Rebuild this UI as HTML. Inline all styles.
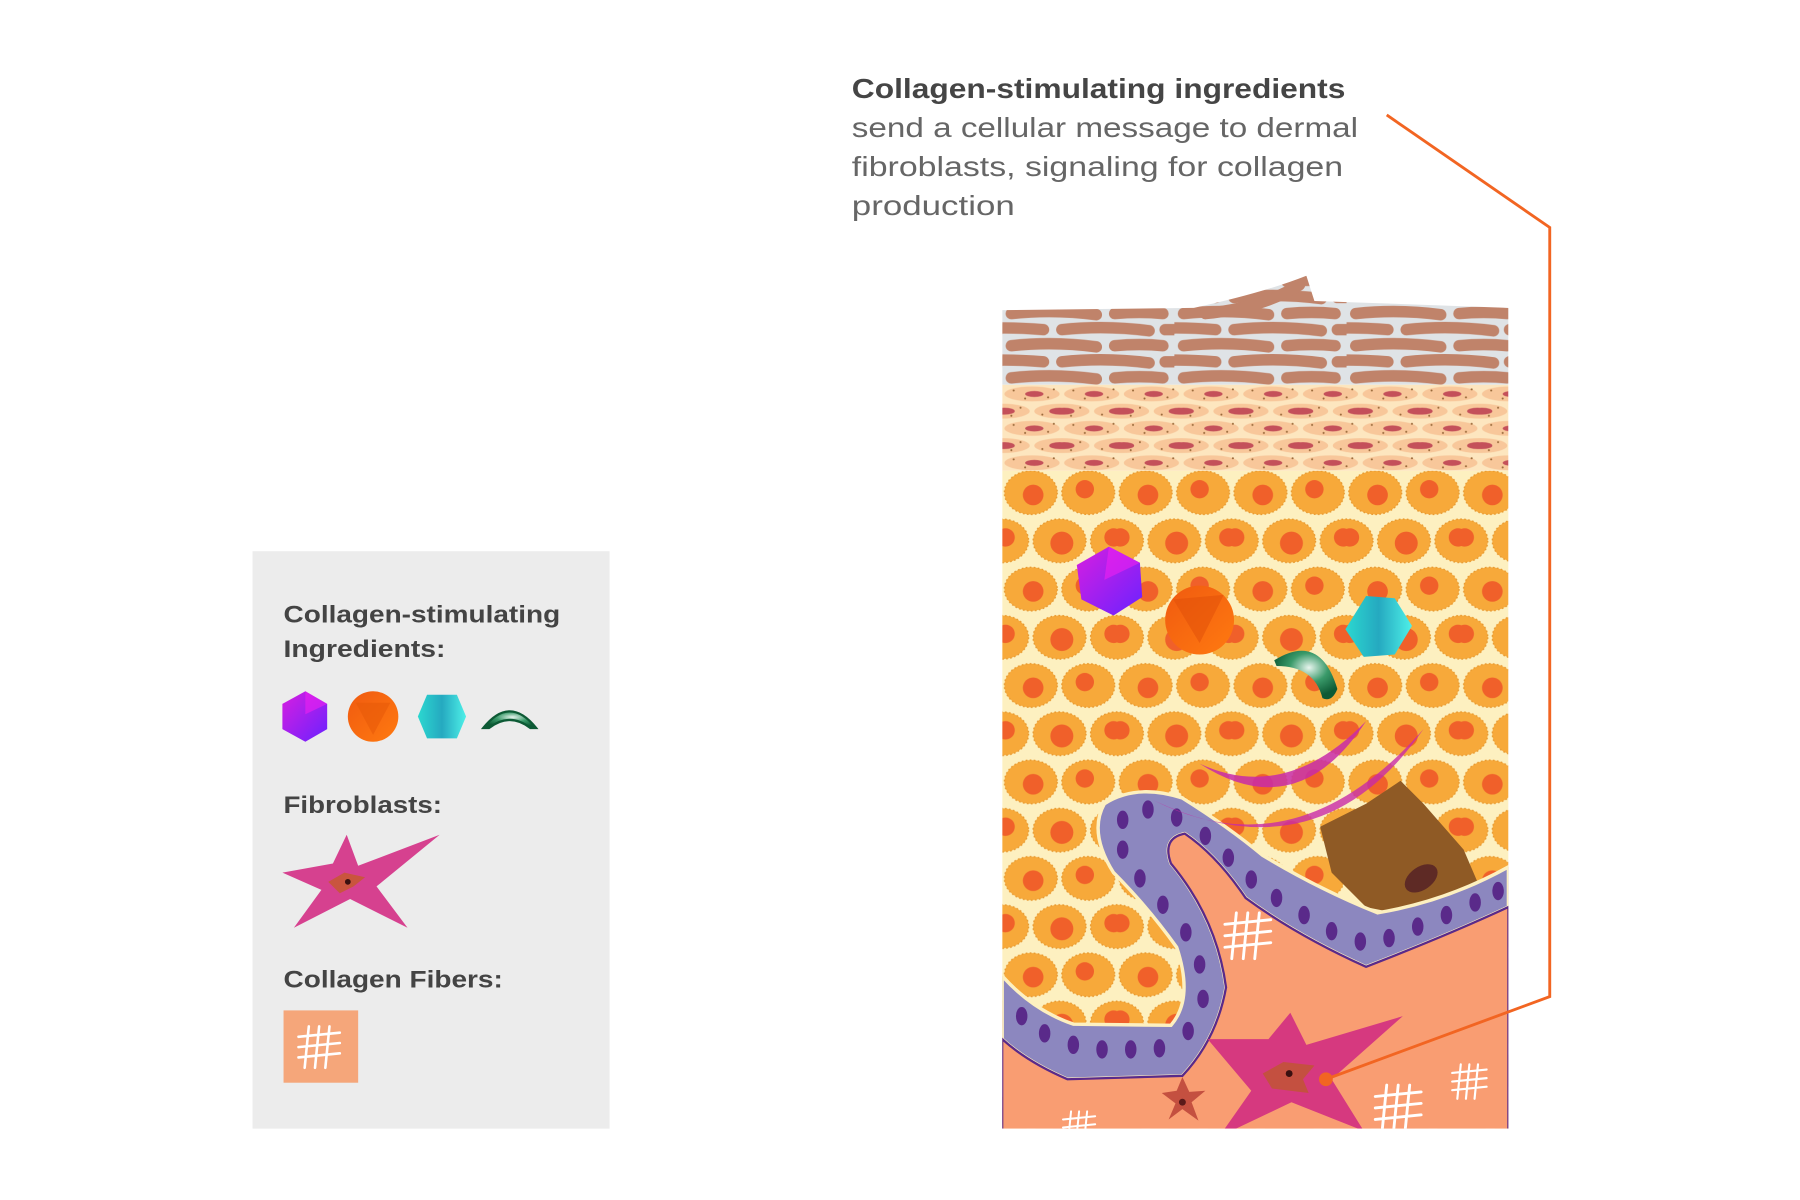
<!DOCTYPE html>
<html><head><meta charset="utf-8"><style>
html,body{margin:0;padding:0;background:#fff;}
svg{display:block}
</style></head><body>
<svg width="1800" height="1200" viewBox="0 0 1568 1045" xmlns="http://www.w3.org/2000/svg" xmlns:xlink="http://www.w3.org/1999/xlink" font-family="Liberation Sans, sans-serif">
<defs>
<clipPath id="panel"><path d="M873,270 L1040,268 Q1100,255 1138,240 L1145,262 L1314,268 L1314,983 L873,983 Z"/></clipPath>
<radialGradient id="gr" cx="0.55" cy="0.35" r="0.6"><stop offset="0" stop-color="#e8f5ee"/><stop offset="0.5" stop-color="#3a9a6a"/><stop offset="1" stop-color="#0d5a35"/></radialGradient>
<linearGradient id="pu" x1="0" y1="0" x2="1" y2="1"><stop offset="0" stop-color="#d81ee0"/><stop offset="1" stop-color="#6a22ff"/></linearGradient>
<linearGradient id="or" x1="0" y1="0" x2="1" y2="1"><stop offset="0" stop-color="#f05a10"/><stop offset="1" stop-color="#ff7a10"/></linearGradient>
<linearGradient id="te" x1="0" y1="0" x2="1" y2="0"><stop offset="0" stop-color="#2bd8d0"/><stop offset="0.5" stop-color="#25a9c0"/><stop offset="1" stop-color="#4ef0e8"/></linearGradient>
<pattern id="cellp" x="873" y="408" width="100" height="84" patternUnits="userSpaceOnUse">
 <rect width="100" height="84" fill="#fdf0c0"/>
 <g fill="#f7a93a" stroke="#e89a30" stroke-width="1.2" stroke-dasharray="1.5 2">
 <ellipse cx="25" cy="21" rx="23" ry="19"/><ellipse cx="75" cy="21" rx="23" ry="19"/>
 <ellipse cx="0" cy="63" rx="23" ry="19"/><ellipse cx="50" cy="63" rx="23" ry="19"/><ellipse cx="100" cy="63" rx="23" ry="19"/>
 <ellipse cx="25" cy="-21" rx="23" ry="19"/><ellipse cx="75" cy="-21" rx="23" ry="19"/>
 <ellipse cx="25" cy="105" rx="23" ry="19"/><ellipse cx="75" cy="105" rx="23" ry="19"/>
 </g>
 <g fill="#f0602a">
 <circle cx="27" cy="23" r="9"/><circle cx="72" cy="18" r="8"/><circle cx="52" cy="65" r="10"/><circle cx="3" cy="60" r="8"/><circle cx="97" cy="60" r="8"/>
 </g>
</pattern>
<pattern id="granp" x="873" y="335" width="52" height="30" patternUnits="userSpaceOnUse">
 <rect width="52" height="30" fill="#fde6bf"/>
 <g fill="#f8c79a"><ellipse cx="26" cy="8" rx="24" ry="6.5"/><ellipse cx="0" cy="23" rx="24" ry="6.5"/><ellipse cx="52" cy="23" rx="24" ry="6.5"/></g>
 <g fill="#c4505a"><ellipse cx="28" cy="8" rx="8" ry="2.6"/><ellipse cx="2" cy="23" rx="9" ry="3"/><ellipse cx="50" cy="23" rx="9" ry="3"/></g>
 <g fill="#9a6a3a"><circle cx="10" cy="5" r="0.9"/><circle cx="40" cy="11" r="0.9"/><circle cx="16" cy="20" r="0.9"/><circle cx="35" cy="26" r="0.9"/><circle cx="20" cy="12" r="0.9"/><circle cx="45" cy="4" r="0.9"/><circle cx="8" cy="27" r="0.9"/></g>
</pattern>
<pattern id="cornp" x="873" y="266" width="150" height="28" patternUnits="userSpaceOnUse">
 <rect width="150" height="28" fill="#dfe3e6"/>
 <g stroke="#c0836a" stroke-width="10" stroke-linecap="round" fill="none">
 <path d="M8,7 Q45,3 82,8"/><path d="M98,7 Q120,5 140,7"/>
 <path d="M-30,21 Q0,18 36,21"/><path d="M52,21 Q90,17 128,22"/><path d="M142,21 L180,21"/>
 </g>
</pattern>
<path id="m" d="M-20,-10 L20,-14 M-20,0 L20,-4 M-20,10 L20,6 M-10,-20 L-14,20 M0,-20 L-4,20 M10,-20 L6,20" stroke="#fff" stroke-width="2.5" fill="none" stroke-linecap="round"/>
</defs>

<text x="742" y="85" font-size="24.5" font-weight="bold" fill="#454545" textLength="430" lengthAdjust="spacingAndGlyphs">Collagen-stimulating ingredients</text>
<g font-size="24.5" fill="#666">
<text x="742" y="119" textLength="441" lengthAdjust="spacingAndGlyphs">send a cellular message to dermal</text>
<text x="742" y="153" textLength="428" lengthAdjust="spacingAndGlyphs">fibroblasts, signaling for collagen</text>
<text x="742" y="187" textLength="142" lengthAdjust="spacingAndGlyphs">production</text>
</g>

<rect x="220" y="480" width="311" height="503" fill="#ececec"/>
<g font-size="21" font-weight="bold" fill="#444">
<text x="247" y="542" textLength="241" lengthAdjust="spacingAndGlyphs">Collagen-stimulating</text>
<text x="247" y="572" textLength="141" lengthAdjust="spacingAndGlyphs">Ingredients:</text>
<text x="247" y="708" textLength="138" lengthAdjust="spacingAndGlyphs">Fibroblasts:</text>
<text x="247" y="860" textLength="191" lengthAdjust="spacingAndGlyphs">Collagen Fibers:</text>
</g>
<polygon points="266,602 285,613 285,635 266,646 246,635 246,613" fill="url(#pu)"/>
<polygon points="266,602 285,613 266,622" fill="#ee22f0" opacity=".6"/>
<circle cx="325" cy="624" r="22" fill="url(#or)"/>
<polygon points="310,612 340,612 325,640" fill="#e85a08" opacity=".6"/>
<polygon points="372,605 398,605 406,624 398,643 372,643 364,624" fill="url(#te)"/>
<path d="M421,634 Q444,605 467,634 L462,634 Q444,620 426,634 Z" fill="url(#gr)" stroke="#0d5a35" stroke-width="2"/>
<polygon points="246,760 290,752 302,727 312,754 383,727 328,772 355,808 305,783 256,808 280,775" fill="#d6418f"/>
<polygon points="286,768 300,760 318,764 308,772 296,778" fill="#c9553e"/>
<circle cx="303" cy="768" r="2.5" fill="#3a1010"/>
<rect x="247" y="880" width="65" height="63" fill="#f5a67a"/>
<use xlink:href="#m" href="#m" transform="translate(278,912) scale(0.9)"/>

<g clip-path="url(#panel)">
<rect x="873" y="230" width="441" height="105" fill="url(#cornp)"/>
<path d="M1050,273 Q1100,268 1132,248" stroke="#c0836a" stroke-width="10" stroke-linecap="round" fill="none"/>
<rect x="873" y="335" width="441" height="75" fill="url(#granp)"/>
<rect x="873" y="410" width="441" height="580" fill="url(#cellp)"/>
<path d="M1150,720 L1190,700 L1220,680 L1240,700 L1275,740 L1290,775 L1240,800 L1190,790 L1160,760 Z" fill="#8f5a25"/>
<ellipse cx="1238" cy="765" rx="16" ry="10" transform="rotate(-35 1238 765)" fill="#5e2a25"/>
<path d="M873,850 Q900,880 935,892 L1020,893 Q1040,870 1025,825 Q1000,790 970,760 Q948,725 962,700 Q990,682 1030,695 Q1070,720 1100,745 Q1150,775 1200,795 Q1260,785 1314,755 L1314,790 Q1260,815 1190,842 Q1130,815 1085,782 Q1060,745 1032,726 Q1012,730 1020,752 Q1060,800 1068,860 Q1060,905 1030,937 L930,940 Q895,925 873,905 Z" fill="#8c87bf" stroke="#fdf0c0" stroke-width="3"/>
<g fill="#5a2a8a">
<ellipse cx="890" cy="885" rx="5" ry="8"/><ellipse cx="910" cy="900" rx="5" ry="8"/><ellipse cx="935" cy="910" rx="5" ry="8"/><ellipse cx="960" cy="914" rx="5" ry="8"/><ellipse cx="985" cy="914" rx="5" ry="8"/><ellipse cx="1010" cy="913" rx="5" ry="8"/><ellipse cx="1035" cy="898" rx="5" ry="8"/><ellipse cx="1048" cy="870" rx="5" ry="8"/><ellipse cx="1045" cy="840" rx="5" ry="8"/><ellipse cx="1033" cy="812" rx="5" ry="8"/><ellipse cx="1013" cy="788" rx="5" ry="8"/><ellipse cx="993" cy="765" rx="5" ry="8"/><ellipse cx="978" cy="740" rx="5" ry="8"/><ellipse cx="978" cy="714" rx="5" ry="8"/><ellipse cx="1000" cy="705" rx="5" ry="8"/><ellipse cx="1025" cy="712" rx="5" ry="8"/><ellipse cx="1050" cy="728" rx="5" ry="8"/><ellipse cx="1070" cy="747" rx="5" ry="8"/><ellipse cx="1090" cy="766" rx="5" ry="8"/><ellipse cx="1112" cy="782" rx="5" ry="8"/><ellipse cx="1136" cy="797" rx="5" ry="8"/><ellipse cx="1160" cy="811" rx="5" ry="8"/><ellipse cx="1185" cy="820" rx="5" ry="8"/><ellipse cx="1210" cy="817" rx="5" ry="8"/><ellipse cx="1235" cy="807" rx="5" ry="8"/><ellipse cx="1260" cy="797" rx="5" ry="8"/><ellipse cx="1285" cy="786" rx="5" ry="8"/><ellipse cx="1305" cy="776" rx="5" ry="8"/>
</g>
<path d="M873,905 Q895,925 930,940 L1030,937 Q1060,905 1068,860 Q1060,800 1020,752 Q1012,730 1032,726 Q1060,745 1085,782 Q1130,815 1190,842 Q1260,815 1314,790 L1314,990 L873,990 Z" fill="#f99d72" stroke="#5a2a8a" stroke-width="2"/>
<use xlink:href="#m" href="#m" transform="translate(1087,815)"/>
<use xlink:href="#m" href="#m" transform="translate(1218,965)"/>
<use xlink:href="#m" href="#m" transform="translate(1280,942) scale(0.75)"/>
<use xlink:href="#m" href="#m" transform="translate(940,982) scale(0.7)"/>
<polygon points="966,476 993,490 995,520 970,536 942,522 938,492" fill="url(#pu)"/>
<polygon points="966,476 993,490 962,505" fill="#ee22f0" opacity=".6"/>
<circle cx="1045" cy="540" r="30" fill="url(#or)"/>
<polygon points="1022,522 1066,518 1045,560" fill="#e04e08" opacity=".5"/>
<polygon points="1190,519 1215,521 1230,545 1215,570 1188,572 1172,548" fill="url(#te)"/>
<path d="M1110,575 Q1150,550 1165,600 Q1160,612 1152,608 Q1145,580 1112,580 Z" fill="url(#gr)"/>
<path d="M1045,665 Q1120,700 1190,628 Q1130,720 1045,665 Z" fill="#c82aa8" opacity=".85"/>
<path d="M1005,697 Q1130,760 1240,635 Q1150,765 1005,697 Z" fill="#c82aa8" opacity=".8"/>
<polygon points="1052,905 1105,905 1124,882 1138,910 1222,885 1160,940 1188,985 1125,960 1062,990 1090,950" fill="#d6397f"/>
<polygon points="1100,935 1118,925 1145,928 1135,940 1140,952 1108,948" fill="#c45040"/>
<circle cx="1123" cy="935" r="3" fill="#3a1010"/>
<polygon points="1012,952 1025,950 1030,938 1036,951 1050,950 1038,960 1044,976 1030,966 1018,975 1024,961" fill="#c45040"/>
<circle cx="1030" cy="960" r="3" fill="#5a1a1a"/>
</g>
<polyline points="1208,100 1350,198 1350,868 1155,940" fill="none" stroke="#f26522" stroke-width="2.5"/>
<circle cx="1155" cy="940" r="6" fill="#f26522"/>
</svg>
</body></html>
